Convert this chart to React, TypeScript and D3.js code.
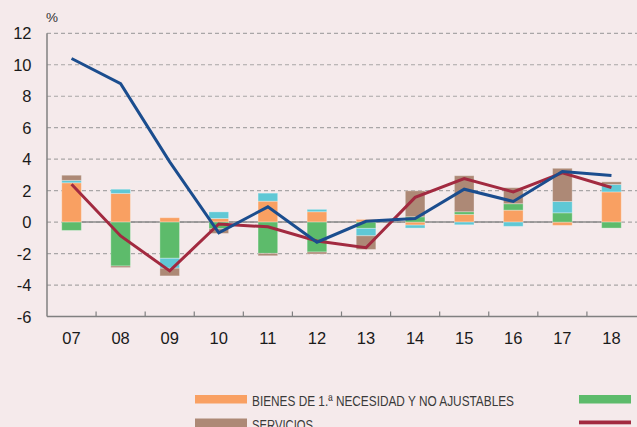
import React from "react";
import * as d3 from "d3";

const categories = ["07", "08", "09", "10", "11", "12", "13", "14", "15", "16", "17", "18"];
const bienesNecesidad = [2.5, 1.82, 0.28, 0.23, 1.33, 0.66, 0.17, -0.19, 0.49, 0.76, -0.21, 1.92];
const verde = [-0.53, -2.79, -2.3, -0.42, -1.99, -1.9, -0.4, 0.34, 0.17, 0.41, 0.59, -0.38];
const cian = [0.15, 0.27, -0.63, 0.42, 0.51, 0.15, -0.47, -0.19, -0.17, -0.27, 0.72, 0.47];
const servicios = [0.33, -0.1, -0.49, -0.3, -0.15, -0.13, -0.87, 1.65, 2.29, 1.02, 2.11, 0.17];
const lineaRoja = [2.41, -0.88, -3.1, -0.12, -0.3, -1.2, -1.63, 1.57, 2.77, 1.92, 3.13, 2.2];
const lineaAzul = [10.4, 8.8, 3.83, -0.68, 0.97, -1.28, 0.05, 0.23, 2.09, 1.31, 3.22, 2.96];
const yTicks = [-6, -4, -2, 0, 2, 4, 6, 8, 10, 12];

const W = 637;
const H = 427;
const BG = "#F5EAEB";
const COLORS: Record<string, string> = {
  orange: "#F9A062",
  green: "#5DBB6B",
  cyan: "#5FC8D5",
  brown: "#AD8976",
};
const RED = "#A22A40";
const BLUE = "#1B4D8E";
const AXIS = "#808080";

export default function App() {
  const x = d3.scaleBand<string>().domain(categories).range([47, 636]).paddingInner(0).paddingOuter(0);
  const y = d3.scaleLinear().domain([-6, 12]).range([316.5, 33.3]);
  const bw = x.bandwidth() * 0.4;
  const cx = (c: string) => (x(c) as number) + x.bandwidth() / 2;

  const keys = ["orange", "green", "cyan", "brown"];
  const rows = categories.map((c, i) => ({
    cat: c,
    orange: bienesNecesidad[i],
    green: verde[i],
    cyan: cian[i],
    brown: servicios[i],
  }));
  const stack = d3.stack<any>().keys(keys).offset(d3.stackOffsetDiverging);
  const series = stack(rows);

  const line = d3
    .line<number>()
    .x((_, i) => cx(categories[i]))
    .y((d) => y(d));

  const font = "'Liberation Sans', Arial, Helvetica, sans-serif";
  const narrow = "'Liberation Sans Narrow', 'Liberation Sans', Arial, sans-serif";

  return (
    <svg
      width={W}
      height={H}
      style={{ position: "absolute", left: 0, top: 0, background: BG, display: "block" }}
    >
      <rect x={0} y={0} width={W} height={H} fill={BG} />
      {/* gridlines */}
      {yTicks
        .filter((t) => t !== -6)
        .map((t) => (
          <line
            key={"g" + t}
            x1={47}
            x2={W}
            y1={y(t)}
            y2={y(t)}
            stroke="#A9A6A7"
            strokeWidth={1.2}
            strokeDasharray="4 3"
          />
        ))}
      {/* zero line */}
      <line
        x1={cx(categories[0])}
        x2={cx(categories[categories.length - 1])}
        y1={y(0)}
        y2={y(0)}
        stroke="#8A8A8A"
        strokeWidth={1.5}
      />
      {/* bars */}
      {series.map((s) => (
        <g key={s.key} fill={COLORS[s.key]}>
          {s.map((d, i) => {
            const y0 = y(d[0]);
            const y1 = y(d[1]);
            const top = Math.min(y0, y1);
            const h = Math.abs(y1 - y0);
            if (h < 0.01) return null;
            return (
              <rect
                key={i}
                x={cx(categories[i]) - bw / 2}
                y={top}
                width={bw}
                height={h}
                stroke="#ffffff"
                strokeOpacity={0.3}
                strokeWidth={1}
              />
            );
          })}
        </g>
      ))}
      {/* lines */}
      <path d={line(lineaRoja) || ""} fill="none" stroke={RED} strokeWidth={3} strokeLinejoin="miter" />
      <path d={line(lineaAzul) || ""} fill="none" stroke={BLUE} strokeWidth={3} strokeLinejoin="miter" />
      {/* axes */}
      <line x1={47} x2={47} y1={y(12)} y2={y(-6)} stroke={AXIS} strokeWidth={1.5} />
      <line x1={47} x2={W} y1={y(-6)} y2={y(-6)} stroke={AXIS} strokeWidth={1.5} />
      {categories.slice(1).map((c) => (
        <line
          key={"t" + c}
          x1={x(c) as number}
          x2={x(c) as number}
          y1={y(-6)}
          y2={y(-6) - 5}
          stroke={AXIS}
          strokeWidth={1.2}
        />
      ))}
      {yTicks.map((t) => (
        <text
          key={"yl" + t}
          x={31.5}
          y={y(t) + 6}
          textAnchor="end"
          fontFamily={font}
          fontSize={16.5}
          fill="#1a1a1a"
        >
          {t}
        </text>
      ))}
      <text x={52} y={22} textAnchor="middle" fontFamily={font} fontSize={13.5} fill="#333">
        %
      </text>
      {categories.map((c) => (
        <text
          key={"xl" + c}
          x={cx(c)}
          y={344}
          textAnchor="middle"
          fontFamily={font}
          fontSize={16.5}
          fill="#1a1a1a"
        >
          {c}
        </text>
      ))}
      {/* legend */}
      <rect x={195} y={395} width={52} height={8.5} fill={COLORS.orange} />
      <text
        x={252}
        y={405.5}
        fontFamily={narrow}
        fontSize={15}
        fill="#3a3a3a"
        textLength={262}
        lengthAdjust="spacingAndGlyphs"
      >
        BIENES DE 1.ª NECESIDAD Y NO AJUSTABLES
      </text>
      <rect x={195} y={418.5} width={52} height={9} fill={COLORS.brown} />
      <text
        x={252}
        y={429.5}
        fontFamily={narrow}
        fontSize={15}
        fill="#3a3a3a"
        textLength={61}
        lengthAdjust="spacingAndGlyphs"
      >
        SERVICIOS
      </text>
      <rect x={579} y={395} width={52} height={8.5} fill={COLORS.green} />
      <rect x={579} y={420.5} width={52} height={3.8} fill={RED} />
    </svg>
  );
}
